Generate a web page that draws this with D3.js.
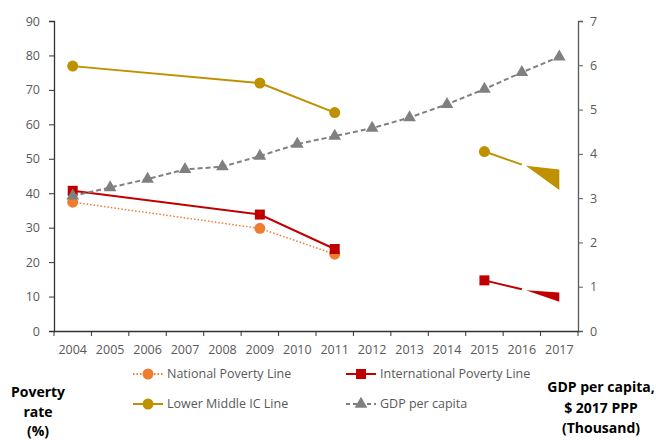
<!DOCTYPE html>
<html>
<head>
<meta charset="utf-8">
<script src="https://cdn.jsdelivr.net/npm/d3@7"></script>
<style>
  body { margin: 0; background: #fff; }
  text { font-family: "Open Sans", sans-serif; }
</style>
</head>
<body>
<script>
// poverty rates (%) and GDP per capita ($ 2017 PPP, thousand)
const years = ["2004","2005","2006","2007","2008","2009","2010","2011","2012","2013","2014","2015","2016","2017"];
const nationalYears = ["2004", "2009", "2011"];
const nationalRate = [37.4, 29.8, 22.3];
const intlYears = ["2004", "2009", "2011", "2015", "2016"];
const intlRate = [40.7, 33.8, 23.8, 14.7, 12.1];
const lmicYears = ["2004", "2009", "2011", "2015", "2016"];
const lmicRate = [76.9, 72.0, 63.4, 52.1, 48.3];
// odd wedge shape drawn at the end of the two broken series (2017 top / bottom)
const lmicWedge2017 = [46.9, 40.9];
const intlWedge2017 = [11.2, 8.5];
const gdp = [3.05, 3.24, 3.43, 3.65, 3.71, 3.95, 4.22, 4.40, 4.58, 4.82, 5.12, 5.46, 5.84, 6.19];
const leftTicks = [0, 10, 20, 30, 40, 50, 60, 70, 80, 90];
const rightTicks = [0, 1, 2, 3, 4, 5, 6, 7];

const width = 656, height = 440;
const plotLeft = 54, plotRight = 578, plotTop = 21, plotBottom = 331;

const svg = d3.select("body").append("svg")
    .attr("width", width)
    .attr("height", height);

const x = d3.scaleBand().domain(years).range([plotLeft, plotRight]);
const cx = d => x(d) + x.bandwidth() / 2;
const y = d3.scaleLinear().domain([0, 90]).range([plotBottom, plotTop]);
const y2 = d3.scaleLinear().domain([0, 7]).range([plotBottom, plotTop]);

// axes
const axisColor = "#595959";
const gl = svg.append("g").attr("transform", `translate(${plotLeft},0)`)
    .call(d3.axisLeft(y).tickValues(leftTicks).tickSize(5).tickPadding(9));
const gr = svg.append("g").attr("transform", `translate(${plotRight},0)`)
    .call(d3.axisRight(y2).tickValues(rightTicks).tickFormat(d3.format("d")).tickSize(5).tickPadding(7));
const gb = svg.append("g").attr("transform", `translate(0,${plotBottom})`)
    .call(d3.axisBottom(x).tickSize(0).tickPadding(14));
// tick marks between the categories
gb.selectAll(".sep")
    .data(years.concat(["end"]))
    .enter().append("line")
    .attr("x1", (d, i) => plotLeft + i * x.step())
    .attr("x2", (d, i) => plotLeft + i * x.step())
    .attr("y1", 0).attr("y2", 5)
    .attr("stroke", "#333");

[gl, gb].forEach(g => {
  g.select(".domain").attr("stroke", "#333").attr("stroke-width", 1.3);
  g.selectAll(".tick line").attr("stroke", "#333");
});
gr.select(".domain").attr("stroke", axisColor).attr("stroke-width", 1.3);
gr.selectAll(".tick line").attr("stroke", axisColor);
[gl, gr, gb].forEach(g => g.selectAll("text")
    .style("font-family", "Open Sans, sans-serif")
    .style("font-size", "12.5px")
    .attr("fill", axisColor));

// series
const national = nationalYears.map((d, i) => [cx(d), y(nationalRate[i])]);
const intl = intlYears.map((d, i) => [cx(d), y(intlRate[i])]);
const lmic = lmicYears.map((d, i) => [cx(d), y(lmicRate[i])]);
const gdpPts = years.map((d, i) => [cx(d), y2(gdp[i])]);

const line = d3.line();

svg.append("path")
    .attr("d", line(national))
    .attr("fill", "none").attr("stroke", "#ED7D31")
    .attr("stroke-width", 1.5).attr("stroke-dasharray", "1.5,2");
svg.selectAll(".nat").data(national).enter().append("circle")
    .attr("cx", d => d[0]).attr("cy", d => d[1]).attr("r", 5.5)
    .attr("fill", "#ED7D31");

function brokenSeries(pts, wedge, color, marker, cls) {
  svg.append("path")
      .attr("d", line(pts.slice(0, 3)))
      .attr("fill", "none").attr("stroke", color).attr("stroke-width", 2);
  svg.append("path")
      .attr("d", line(pts.slice(3, 5)))
      .attr("fill", "none").attr("stroke", color).attr("stroke-width", 2);
  const apex = pts[4];
  svg.append("path")
      .attr("d", d3.line()([[apex[0] + 4, apex[1] + 1], [cx("2017"), y(wedge[0])], [cx("2017"), y(wedge[1])]]) + "Z")
      .attr("fill", color);
  if (marker === "square") {
    svg.selectAll("." + cls).data(pts.slice(0, 4)).enter().append("rect")
        .attr("x", d => d[0] - 5).attr("y", d => d[1] - 5)
        .attr("width", 10).attr("height", 10).attr("fill", color);
  } else {
    svg.selectAll("." + cls).data(pts.slice(0, 4)).enter().append("circle")
        .attr("cx", d => d[0]).attr("cy", d => d[1]).attr("r", 5.5)
        .attr("fill", color);
  }
}
brokenSeries(intl, intlWedge2017, "#C00000", "square", "intl");
brokenSeries(lmic, lmicWedge2017, "#BF9000", "circle", "lmic");

svg.append("path")
    .attr("d", line(gdpPts))
    .attr("fill", "none").attr("stroke", "#808080")
    .attr("stroke-width", 2).attr("stroke-dasharray", "5,3");
const tri = d3.symbol().type(d3.symbolTriangle).size(70);
svg.selectAll(".gdp").data(gdpPts).enter().append("path")
    .attr("d", tri)
    .attr("transform", d => `translate(${d[0]},${d[1]})`)
    .attr("fill", "#808080");

// legend
const legend = [
  { name: "National Poverty Line", color: "#ED7D31", dash: "1.5,2", marker: "circle", lx: 133, ly: 374 },
  { name: "International Poverty Line", color: "#C00000", dash: null, marker: "square", lx: 346, ly: 374 },
  { name: "Lower Middle IC Line", color: "#BF9000", dash: null, marker: "circle", lx: 133, ly: 404 },
  { name: "GDP per capita", color: "#808080", dash: "4,3", marker: "triangle", lx: 346, ly: 404 }
];
const lg = svg.selectAll(".legend").data(legend).enter().append("g")
    .attr("transform", d => `translate(${d.lx},${d.ly})`);
lg.append("line")
    .attr("x1", 0).attr("x2", 30)
    .attr("stroke", d => d.color).attr("stroke-width", 2)
    .attr("stroke-dasharray", d => d.dash);
lg.each(function(d) {
  const g = d3.select(this);
  if (d.marker === "circle") g.append("circle").attr("cx", 15).attr("r", 5.5).attr("fill", d.color);
  else if (d.marker === "square") g.append("rect").attr("x", 10).attr("y", -5).attr("width", 10).attr("height", 10).attr("fill", d.color);
  else g.append("path").attr("d", tri).attr("transform", "translate(15,0)").attr("fill", d.color);
});
lg.append("text")
    .attr("x", 34).attr("dy", "0.35em")
    .attr("fill", axisColor)
    .style("font-size", "12.5px")
    .text(d => d.name);

// axis titles
const leftTitle = ["Poverty", "rate", "(%)"];
svg.append("text")
    .attr("text-anchor", "middle")
    .style("font-size", "14px").style("font-weight", "bold")
    .selectAll("tspan").data(leftTitle).enter().append("tspan")
    .attr("x", 38).attr("y", (d, i) => 397 + i * 19.5)
    .text(d => d);
const rightTitle = ["GDP per capita,", "$ 2017 PPP", "(Thousand)"];
svg.append("text")
    .attr("text-anchor", "middle")
    .style("font-size", "14px").style("font-weight", "bold")
    .selectAll("tspan").data(rightTitle).enter().append("tspan")
    .attr("x", 601).attr("y", (d, i) => 392 + i * 20.5)
    .text(d => d);
</script>
</body>
</html>
